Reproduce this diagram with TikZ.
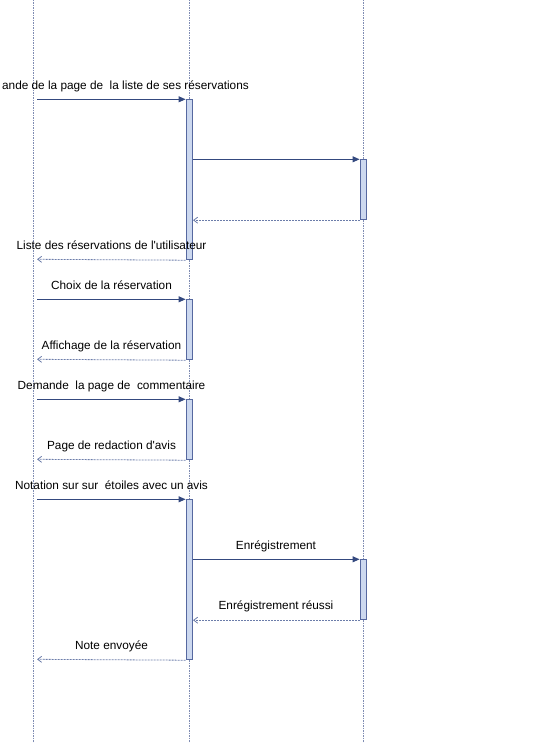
\documentclass[tikz,border=0pt]{standalone}
\usepackage{fontspec}
\setmainfont{Liberation Sans}
\usetikzlibrary{arrows.meta}
\newcommand\straightq{\XeTeXglyph\XeTeXcharglyph"27\relax}
\definecolor{msgcol}{HTML}{34497F}
\definecolor{retcol}{HTML}{6C7DAA}
\definecolor{lifecol}{HTML}{7F8CB2}
\definecolor{barfill}{HTML}{CCD8EF}
\definecolor{barline}{HTML}{5668A0}
\tikzset{
  lifeline/.style={draw=lifecol, line width=0.9pt, dash pattern=on 1.5pt off 1pt},
  actbar/.style={draw=barline, fill=barfill, line width=0.9pt, minimum width=6.6pt, inner sep=0pt, anchor=north},
  msg/.style={draw=msgcol, line width=0.9pt, -{Triangle[length=7pt,width=6pt]}},
  ret/.style={draw=retcol, line width=0.8pt, dash pattern=on 2pt off 1pt, -{Straight Barb[length=4pt,width=6pt]}},
  lbl/.style={font=\fontsize{11.8}{14}\selectfont, anchor=base, inner sep=0pt, text=black}
}
\begin{document}
\begin{tikzpicture}[x=1pt,y=-1pt]
\useasboundingbox (0,0) rectangle (550,743);
% lifelines
\coordinate (Atop) at (33.3,0);   \coordinate (Abot) at (33.3,743);
\coordinate (Btop) at (189.3,0);  \coordinate (Bbot) at (189.3,743);
\coordinate (Ctop) at (363.3,0);  \coordinate (Cbot) at (363.3,743);
\draw[lifeline] (Atop) -- (Abot);
\draw[lifeline] (Btop) -- (Bbot);
\draw[lifeline] (Ctop) -- (Cbot);
% activation bars
\node[actbar, minimum height=160pt] (b1) at (189.3,99.3) {};
\node[actbar, minimum height=60pt]  (c1) at (363.3,159.3) {};
\node[actbar, minimum height=60pt]  (b2) at (189.3,299.3) {};
\node[actbar, minimum height=60pt]  (b3) at (189.3,399.3) {};
\node[actbar, minimum height=160pt] (b4) at (189.3,499.3) {};
\node[actbar, minimum height=60pt]  (c2) at (363.3,559.3) {};
% free ends on the user lifeline
\coordinate (u1) at (37,99.3);
\coordinate (u2) at (37,259.3);
\coordinate (u3) at (37,299.3);
\coordinate (u4) at (37,359.3);
\coordinate (u5) at (37,399.3);
\coordinate (u6) at (37,459.3);
\coordinate (u7) at (37,499.3);
\coordinate (u8) at (37,659.3);
% messages
\draw[msg] (u1) -- (b1.north west);
\node[lbl, anchor=base east] (l1) at (249,89.6) {ande de la page de\ \ la liste de ses réservations};
\draw[msg] (b1.east |- c1.north) -- (c1.north west);
\draw[ret] (c1.south west) -- (b1.east |- c1.south);
\draw[ret] (b1.south west) -- (u2);
\node[lbl] (l2) at (111.5,249.6) {Liste des réservations de l\straightq utilisateur};
\draw[msg] (u3) -- (b2.north west);
\node[lbl] (l3) at (111.5,289.6) {Choix de la réservation};
\draw[ret] (b2.south west) -- (u4);
\node[lbl] (l4) at (111.5,349.6) {Affichage de la réservation};
\draw[msg] (u5) -- (b3.north west);
\node[lbl] (l5) at (111.5,389.6) {Demande\ \ la page de\ \ commentaire};
\draw[ret] (b3.south west) -- (u6);
\node[lbl] (l6) at (111.5,449.6) {Page de redaction d\straightq avis};
\draw[msg] (u7) -- (b4.north west);
\node[lbl] (l7) at (111.5,489.6) {Notation sur sur\ \ étoiles avec un avis};
\draw[msg] (b4.east |- c2.north) -- (c2.north west);
\node[lbl] (l8) at (276,549.6) {Enrégistrement};
\draw[ret] (c2.south west) -- (b4.east |- c2.south);
\node[lbl] (l9) at (276,609.6) {Enrégistrement réussi};
\draw[ret] (b4.south west) -- (u8);
\node[lbl] (l10) at (111.5,649.6) {Note envoyée};
\end{tikzpicture}
\end{document}
